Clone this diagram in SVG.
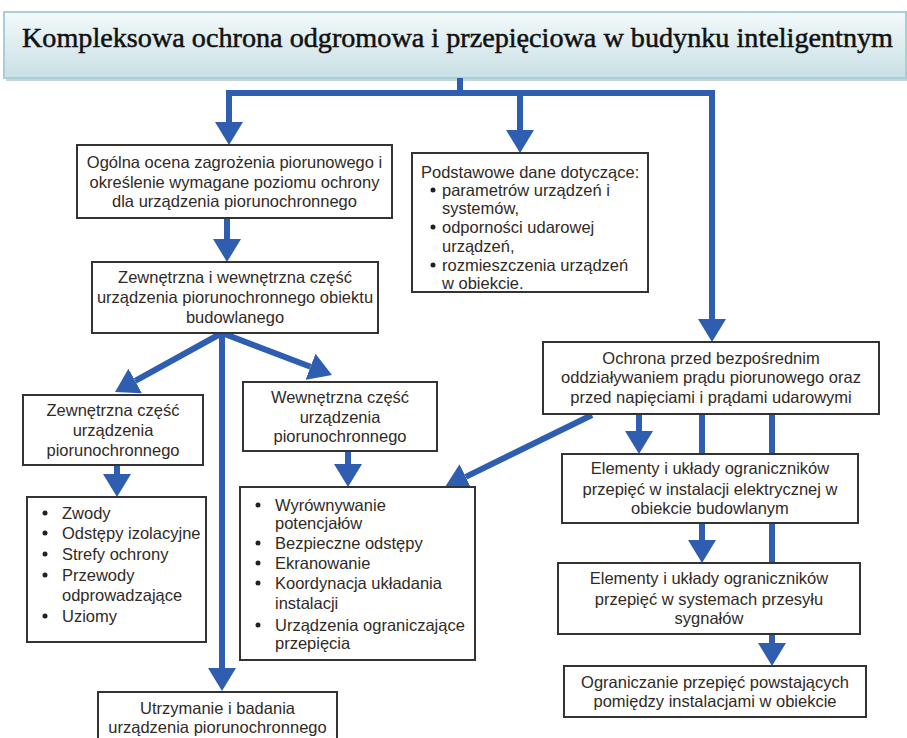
<svg xmlns="http://www.w3.org/2000/svg" width="907" height="738" viewBox="0 0 907 738">
<defs>
<linearGradient id="tg" x1="0" y1="0" x2="0" y2="1">
<stop offset="0" stop-color="#f3f9fa"/>
<stop offset="1" stop-color="#c9e0e5"/>
</linearGradient>
<marker id="ah" markerUnits="userSpaceOnUse" markerWidth="25" markerHeight="28" refX="0" refY="14" orient="auto" viewBox="0 0 25 28">
<path d="M0,0 L23,14 L0,28 z" fill="#2f5db0"/>
</marker>
</defs>
<style>
.box{fill:#fff;stroke:#333;stroke-width:2}
.t{font-family:"Liberation Sans",Arial,sans-serif;font-size:16.5px;fill:#302a26}
.c{text-anchor:middle}
.ln{fill:none;stroke:#2f5db0;stroke-width:6}
.a{marker-end:url(#ah)}
.b{fill:#222}
</style>
<rect width="907" height="738" fill="#fff"/>
<g id="title">
<rect x="6" y="15" width="901" height="66" fill="#9fb9bf" opacity="0.6"/>
<rect x="4" y="12" width="902" height="66" fill="url(#tg)" stroke="#a8cfd6" stroke-width="2"/>
<text x="22" y="47" textLength="871" lengthAdjust="spacingAndGlyphs" style="font-family:'Liberation Serif','Times New Roman',serif;font-size:28px;fill:#111;stroke:#111;stroke-width:0.5">Kompleksowa ochrona odgromowa i przepięciowa w budynku inteligentnym</text>
</g>
<g id="connectors">
<path class="ln" d="M460,78 V93"/>
<path class="ln" d="M229,93 H712" stroke-linecap="square"/>
<path class="ln a" d="M229,93 V122"/>
<path class="ln a" d="M520,93 V130"/>
<path class="ln a" d="M712,93 V319"/>
<path class="ln a" d="M227,218 V239"/>
<path class="ln a" d="M222,333 L135.2,380.9"/>
<path class="ln a" d="M222,333 L310.5,366.8"/>
<path class="ln a" d="M222,333 V668"/>
<path class="ln a" d="M117,465 V474"/>
<path class="ln a" d="M348,451 V464"/>
<path class="ln a" d="M592,415 L465.7,476.9"/>
<path class="ln a" d="M639,414 V431"/>
<path class="ln" d="M702,414 V454"/>
<path class="ln" d="M772,414 V454"/>
<path class="ln a" d="M702,523 V540"/>
<path class="ln" d="M772,523 V563"/>
<path class="ln a" d="M772,634 V643"/>
</g>
<g id="ocena">
<rect class="box" x="77" y="145" width="315" height="73"/>
<text class="t c" x="234.5" y="168">Ogólna ocena zagrożenia piorunowego i</text>
<text class="t c" x="234.5" y="188">określenie wymagane poziomu ochrony</text>
<text class="t c" x="234.5" y="207">dla urządzenia piorunochronnego</text>
</g>
<g id="zewwew">
<rect class="box" x="92" y="262" width="286" height="71"/>
<text class="t c" x="235" y="283">Zewnętrzna i wewnętrzna część</text>
<text class="t c" x="235" y="303">urządzenia piorunochronnego obiektu</text>
<text class="t c" x="235" y="323">budowlanego</text>
</g>
<g id="dane">
<rect class="box" x="412" y="153" width="236" height="139"/>
<text class="t" x="421" y="178">Podstawowe dane dotyczące:</text>
<circle class="b" cx="433" cy="190" r="2.5"/>
<text class="t" x="442" y="196">parametrów urządzeń i</text>
<text class="t" x="442" y="214">systemów,</text>
<circle class="b" cx="433" cy="227" r="2.5"/>
<text class="t" x="442" y="233">odporności udarowej</text>
<text class="t" x="442" y="252">urządzeń,</text>
<circle class="b" cx="433" cy="265" r="2.5"/>
<text class="t" x="442" y="271">rozmieszczenia urządzeń</text>
<text class="t" x="442" y="289">w obiekcie.</text>
</g>
<g id="zewnetrzna">
<rect class="box" x="23" y="395" width="180" height="70"/>
<text class="t c" x="113" y="416">Zewnętrzna część</text>
<text class="t c" x="113" y="436">urządzenia</text>
<text class="t c" x="113" y="456">piorunochronnego</text>
</g>
<g id="wewnetrzna">
<rect class="box" x="243" y="382" width="194" height="69"/>
<text class="t c" x="340" y="403">Wewnętrzna część</text>
<text class="t c" x="340" y="423">urządzenia</text>
<text class="t c" x="340" y="442">piorunochronnego</text>
</g>
<g id="ochrona">
<rect class="box" x="543" y="342" width="336" height="72"/>
<text class="t c" x="711" y="364">Ochrona przed bezpośrednim</text>
<text class="t c" x="711" y="383">oddziaływaniem prądu piorunowego oraz</text>
<text class="t c" x="711" y="403">przed napięciami i prądami udarowymi</text>
</g>
<g id="zwody">
<rect class="box" x="27" y="497" width="179" height="145"/>
<circle class="b" cx="45" cy="513" r="2.5"/>
<text class="t" x="62" y="519">Zwody</text>
<circle class="b" cx="45" cy="533" r="2.5"/>
<text class="t" x="62" y="539">Odstępy izolacyjne</text>
<circle class="b" cx="45" cy="554" r="2.5"/>
<text class="t" x="62" y="560">Strefy ochrony</text>
<circle class="b" cx="45" cy="575" r="2.5"/>
<text class="t" x="62" y="581">Przewody</text>
<text class="t" x="62" y="601">odprowadzające</text>
<circle class="b" cx="45" cy="616" r="2.5"/>
<text class="t" x="62" y="622">Uziomy</text>
</g>
<g id="wyrownywanie">
<rect class="box" x="240" y="487" width="235" height="173"/>
<circle class="b" cx="258" cy="505" r="2.5"/>
<text class="t" x="275" y="511">Wyrównywanie</text>
<text class="t" x="275" y="529">potencjałów</text>
<circle class="b" cx="258" cy="543" r="2.5"/>
<text class="t" x="275" y="549">Bezpieczne odstępy</text>
<circle class="b" cx="258" cy="563" r="2.5"/>
<text class="t" x="275" y="569">Ekranowanie</text>
<circle class="b" cx="258" cy="583" r="2.5"/>
<text class="t" x="275" y="589">Koordynacja układania</text>
<text class="t" x="275" y="609">instalacji</text>
<circle class="b" cx="258" cy="625" r="2.5"/>
<text class="t" x="275" y="631">Urządzenia ograniczające</text>
<text class="t" x="275" y="649">przepięcia</text>
</g>
<g id="elektryczna">
<rect class="box" x="562" y="454" width="296" height="69"/>
<text class="t c" x="710" y="474">Elementy i układy ograniczników</text>
<text class="t c" x="710" y="495">przepięć w instalacji elektrycznej w</text>
<text class="t c" x="710" y="514">obiekcie budowlanym</text>
</g>
<g id="sygnaly">
<rect class="box" x="558" y="563" width="302" height="71"/>
<text class="t c" x="709" y="584">Elementy i układy ograniczników</text>
<text class="t c" x="709" y="605">przepięć w systemach przesyłu</text>
<text class="t c" x="709" y="624">sygnałów</text>
</g>
<g id="ograniczanie">
<rect class="box" x="564" y="666" width="302" height="51"/>
<text class="t c" x="715" y="688">Ograniczanie przepięć powstających</text>
<text class="t c" x="715" y="707">pomiędzy instalacjami w obiekcie</text>
</g>
<g id="utrzymanie">
<rect class="box" x="98" y="692" width="239" height="60"/>
<text class="t c" x="217.5" y="714">Utrzymanie i badania</text>
<text class="t c" x="217.5" y="733">urządzenia piorunochronnego</text>
</g>
</svg>
